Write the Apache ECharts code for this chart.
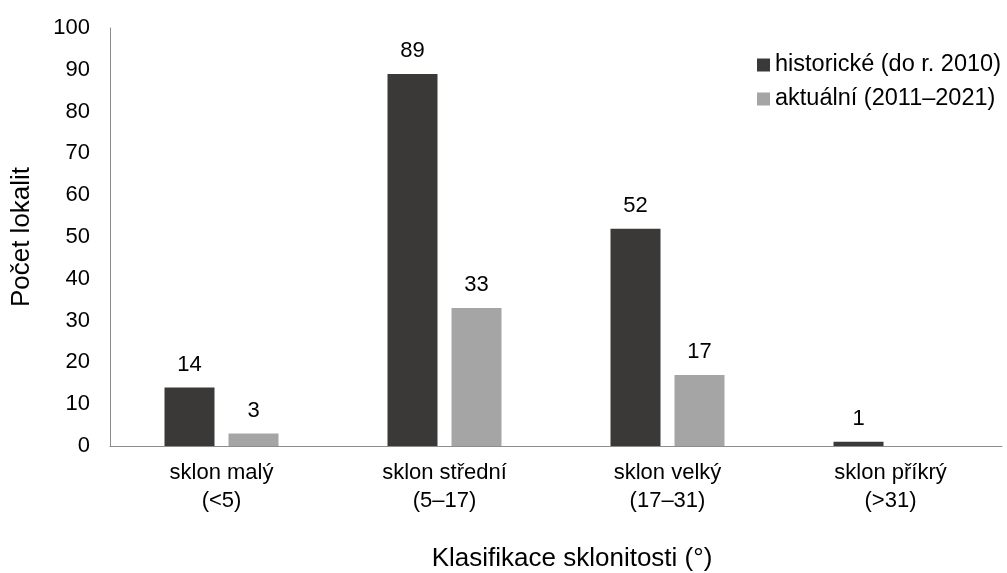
<!DOCTYPE html>
<html>
<head>
<meta charset="utf-8">
<script src="https://cdn.jsdelivr.net/npm/echarts@6/dist/echarts.min.js"></script>
<style>
  html, body { margin: 0; padding: 0; background: #fff; }
  #chart { width: 1007px; height: 573px; }
</style>
</head>
<body>
<div id="chart"></div>
<script>
const categories = ['sklon malý\n(<5)', 'sklon střední\n(5–17)', 'sklon velký\n(17–31)', 'sklon příkrý\n(>31)']
const historicke = [14, 89, 52, 1]
const aktualni = [3, 33, 17, 0]
const yTicks = [0, 10, 20, 30, 40, 50, 60, 70, 80, 90, 100]

const font = 'Liberation Sans, Arial, sans-serif'

const labelStyle = {
  show: true,
  position: 'top',
  distance: 12,
  color: '#000',
  fontSize: 22,
  fontFamily: font,
  // 0 se v originále nepopisuje
  formatter: p => (p.value ? p.value : ''),
}

const options = {
  animation: false,
  grid: {
    left: 110,
    right: 5,
    top: 28,
    bottom: 127,
    containLabel: false,
    outerBoundsMode: 'none',
  },
  legend: {
    orient: 'vertical',
    left: 752,
    top: 48,
    itemWidth: 13,
    itemHeight: 13,
    itemGap: 10,
    icon: 'rect',
    textStyle: {
      fontSize: 23.5,
      fontFamily: font,
      color: '#000',
    },
  },
  xAxis: {
    type: 'category',
    data: categories,
    name: 'Klasifikace sklonitosti (°)',
    nameLocation: 'middle',
    nameGap: 100,
    nameTextStyle: {
      fontSize: 26,
      fontFamily: font,
      color: '#000',
      // titulek je v originále trochu vpravo od středu
      padding: [0, 0, 0, 32],
    },
    axisLine: { lineStyle: { color: '#8c8c8c', width: 1 } },
    axisTick: { show: false },
    axisLabel: {
      interval: 0,
      color: '#000',
      fontSize: 22,
      fontFamily: font,
      lineHeight: 28,
      margin: 13,
    },
  },
  yAxis: {
    type: 'value',
    min: 0,
    max: 100,
    interval: 10,
    name: 'Počet lokalit',
    nameLocation: 'middle',
    nameGap: 75,
    nameTextStyle: { fontSize: 26, fontFamily: font, color: '#000' },
    axisLine: { show: true, lineStyle: { color: '#8c8c8c', width: 1 } },
    axisTick: { show: false },
    splitLine: { show: false },
    axisLabel: {
      color: '#000',
      fontSize: 22,
      fontFamily: font,
      margin: 20,
      formatter: v => (yTicks.includes(v) ? String(v) : ''),
    },
  },
  series: [
    {
      name: 'historické (do r. 2010)',
      type: 'bar',
      data: historicke,
      barWidth: 50,
      barGap: '28%',
      itemStyle: { color: '#3a3938' },
      label: labelStyle,
    },
    {
      name: 'aktuální (2011–2021)',
      type: 'bar',
      data: aktualni,
      barWidth: 50,
      barGap: '28%',
      itemStyle: { color: '#a5a5a5' },
      label: labelStyle,
    },
  ],
}

const chart = echarts.init(document.getElementById('chart'))
chart.setOption(options)
window.addEventListener('resize', function () {
  chart && chart.resize()
})
</script>
</body>
</html>
